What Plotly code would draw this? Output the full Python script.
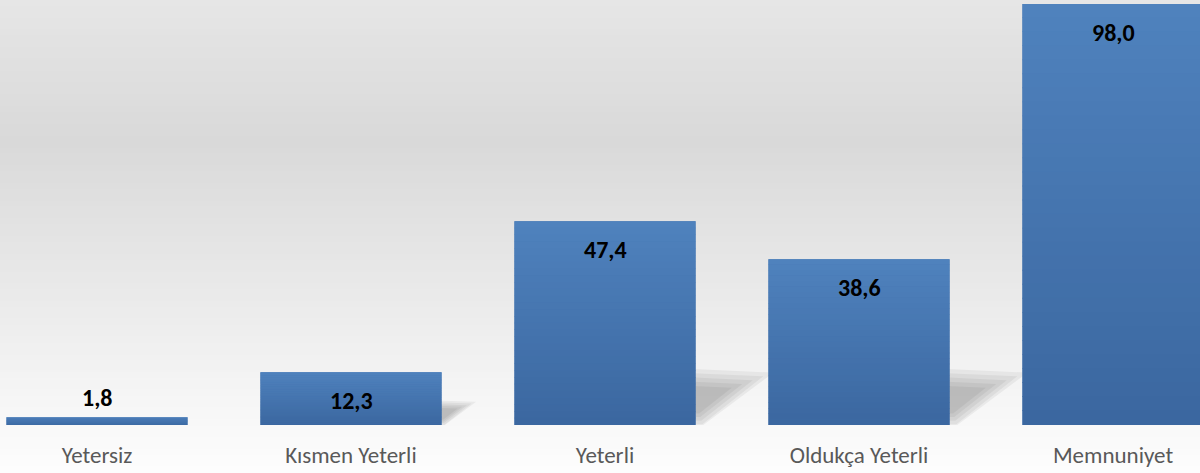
import plotly.graph_objects as go

categories = ["Yetersiz", "Kısmen Yeterli", "Yeterli", "Oldukça Yeterli", "Memnuniyet"]
values = [1.8, 12.3, 47.4, 38.6, 98.0]
labels = ["1,8", "12,3", "47,4", "38,6", "98,0"]

BAR_W = 0.713
Y_MAX = 98.93
FONT = "Carlito, Calibri, Open Sans, Liberation Sans, sans-serif"

fig = go.Figure()
fig.add_trace(go.Bar(
    x=list(range(len(categories))), y=values, width=BAR_W,
    marker=dict(color="#4676b0", line=dict(width=0)),
    hoverinfo="skip", showlegend=False,
))

shapes = []

def lerp(c1, c2, t):
    a = [int(c1[i:i+2], 16) for i in (1, 3, 5)]
    b = [int(c2[i:i+2], 16) for i in (1, 3, 5)]
    return "rgb(%d,%d,%d)" % tuple(round(a[k] + (b[k] - a[k]) * t) for k in range(3))

# background gradient (paper coords)
stops = [(0.0, "#e6e6e6"), (0.30, "#d9d9d9"), (0.85, "#f6f6f6"), (1.0, "#fdfdfd")]
N = 80
total = 1 + 48 / 425
for j in range(N):
    f = (j + 0.5) / N
    for k in range(len(stops) - 1):
        if stops[k][0] <= f <= stops[k + 1][0]:
            t = (f - stops[k][0]) / (stops[k + 1][0] - stops[k][0])
            col = lerp(stops[k][1], stops[k + 1][1], t)
            break
    shapes.append(dict(type="rect", xref="paper", yref="paper", x0=-0.01, x1=1.01,
                       y0=1 - (j + 1) * total / N - 0.001,
                       y1=1 - j * total / N + 0.001,
                       fillcolor=col, line=dict(width=0), layer="below"))

# soft perspective shadows to the right of bars
for i, v in enumerate(values):
    if v < 5:
        continue
    h = min(0.45 * v, 12.5)
    w = 0.022 * h
    xr = i + BAR_W / 2
    cx, cy = xr, 0.45 * h
    base = [(-0.1, 0), (-0.1, h), (w, 0.92 * h), (0.1 * w, 0)]
    for s in [1.12, 0.97, 0.82, 0.67, 0.52]:
        pts = [(cx + (xr + dx - cx) * s, cy + (dy - cy) * s) for dx, dy in base]
        path = "M " + " L ".join("%f,%f" % (px, max(py, 0)) for px, py in pts) + " Z"
        shapes.append(dict(type="path", xref="x", yref="y", path=path,
                           fillcolor="rgba(0,0,0,0.05)", line=dict(width=0), layer="below"))

# bar vertical gradient overlay
NB = 30
top_c, bot_c = "#4f82be", "#3b679f"
for i, v in enumerate(values):
    for j in range(NB):
        t = (j + 0.5) / NB
        shapes.append(dict(type="rect", xref="x", yref="y",
                           x0=i - BAR_W / 2, x1=i + BAR_W / 2,
                           y0=v * (1 - (j + 1) / NB), y1=v * (1 - j / NB) + (0 if j == 0 else v * 0.002),
                           fillcolor=lerp(top_c, bot_c, t), line=dict(width=0), layer="above"))

annotations = []
for i, (v, lab) in enumerate(zip(values, labels)):
    inside = v > 8
    annotations.append(dict(x=i, y=v, xref="x", yref="y", text="<b>%s</b>" % lab,
                            showarrow=False, yshift=-28 if inside else 20,
                            font=dict(family=FONT, size=24, color="#000000")))

fig.update_layout(
    width=1200, height=473,
    margin=dict(l=0, r=0, t=0, b=48),
    paper_bgcolor="#ffffff", plot_bgcolor="rgba(0,0,0,0)",
    shapes=shapes, annotations=annotations,
    xaxis=dict(range=[-97 / 254, (1200 - 97) / 254], tickmode="array",
               tickvals=list(range(len(categories))), ticktext=categories,
               showgrid=False, zeroline=False, showline=False, ticks="",
               ticklabelstandoff=14,
               tickfont=dict(family=FONT, size=23, color="#595959"),
               fixedrange=True),
    yaxis=dict(range=[0, Y_MAX], visible=False, showgrid=False, zeroline=False, fixedrange=True),
)

fig.write_html("out.html", config={"displayModeBar": False},
               post_script="document.body.style.margin='0';document.body.style.overflow='hidden';")
